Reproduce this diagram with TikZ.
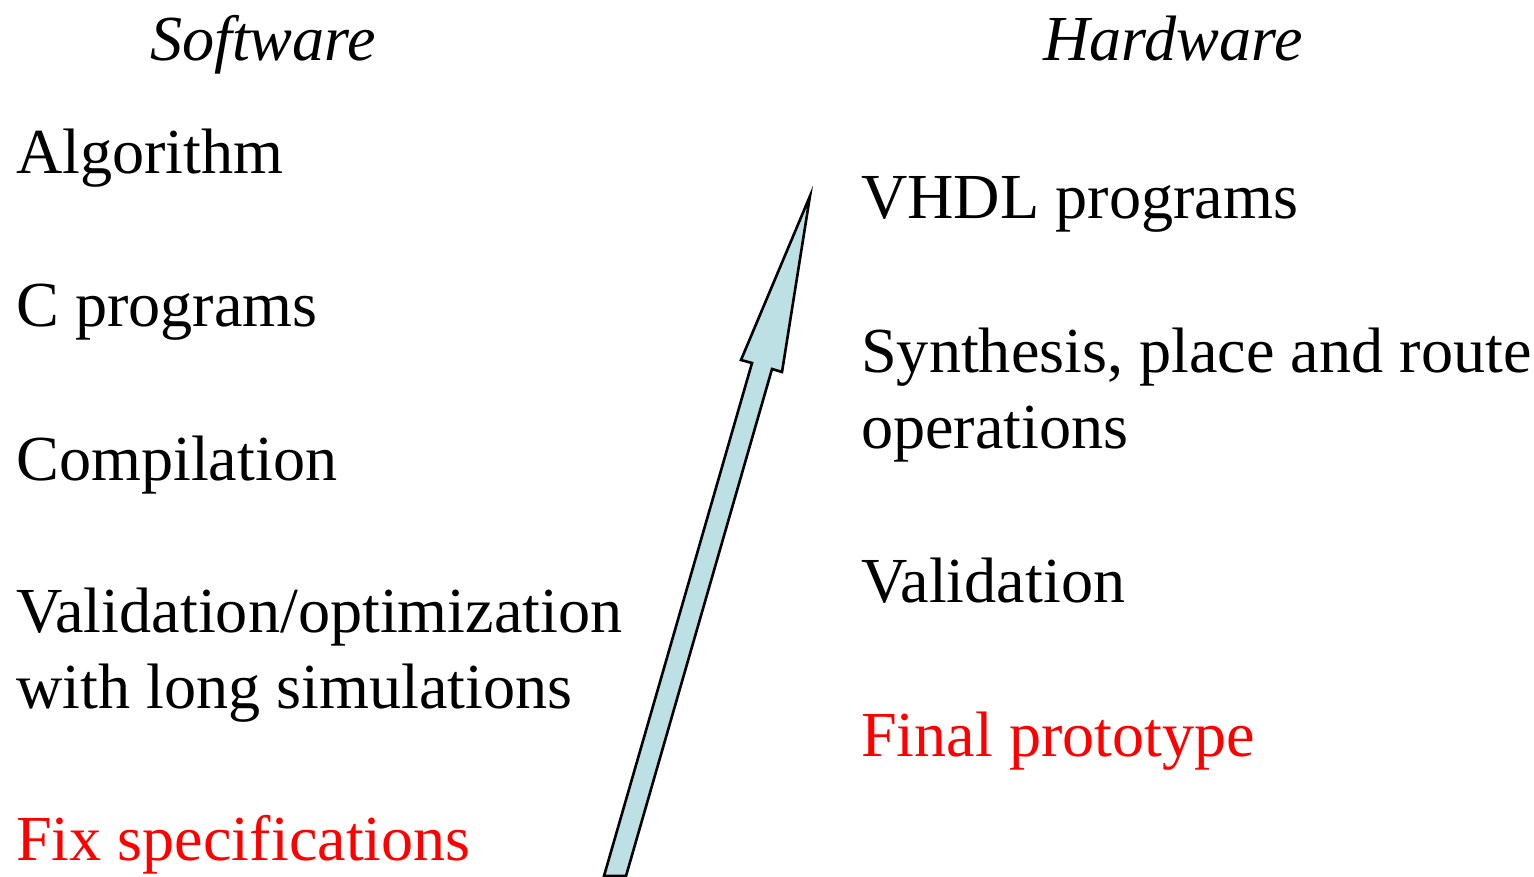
\documentclass[tikz,border=0pt]{standalone}
\usepackage{fontspec}
\setmainfont{Liberation Serif}
\definecolor{arrowfill}{RGB}{189,224,228}
\definecolor{hilite}{RGB}{255,0,0}
\tikzset{
  item/.style={anchor=base west, inner sep=0pt, font=\fontsize{64.2}{76}\selectfont, align=left},
  heading/.style={anchor=base, inner sep=0pt, font=\fontsize{64.2}{76}\selectfont\itshape},
  bigarrow/.style={draw=black, fill=arrowfill, line width=2.6pt, line join=miter},
}
\begin{document}
\begin{tikzpicture}[x=1pt,y=-1pt]
\useasboundingbox (0,0) rectangle (1534,876);

% column headings
\node[heading] (sw) at (263,60) {Software};
\node[heading] (hw) at (1173,60) {Hardware};

% software flow (two-line items are placed by their last baseline)
\node[item] (alg) at (16,173) {Algorithm};
\node[item] (cprog) at (16,326) {C programs};
\node[item] (comp) at (16,480) {Compilation};
\node[item] (valopt) at (16,708) {Validation/optimization\\with long simulations};
\node[item, text=hilite] (fix) at (16,860) {Fix specifications};

% hardware flow
\node[item] (vhdl) at (861,218) {VHDL programs};
\node[item] (synth) at (861,448) {Synthesis, place and route\\operations};
\node[item] (val) at (861,602) {Validation};
\node[item, text=hilite] (proto) at (861,756) {Final prototype};

% rising block arrow between the two columns
\draw[bigarrow] (604,876) -- (752,363) -- (741,360) -- (810,196)
  -- (782,372) -- (772,369) -- (626,876) -- cycle;
\end{tikzpicture}
\end{document}
